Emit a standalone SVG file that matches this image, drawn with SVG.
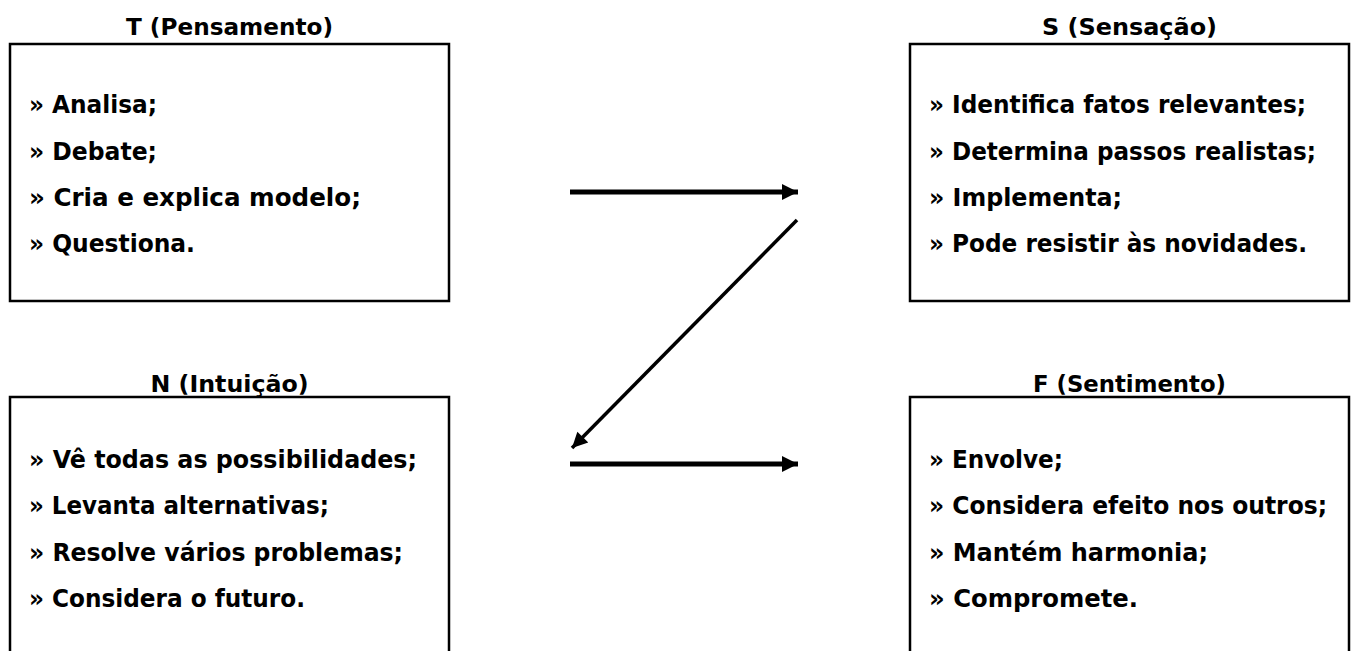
<svg xmlns="http://www.w3.org/2000/svg" width="1358" height="651" viewBox="0 0 1358 651">
<defs>
<style>
.box{fill:#fff;stroke:#000;stroke-width:2.5}
.t{font-family:"DejaVu Sans","Liberation Sans",sans-serif;font-weight:bold;font-size:24px;fill:#000}
.h{text-anchor:middle;font-size:23px}
.c{stroke:#000;fill:none}
</style>
<marker id="ah" viewBox="0 0 10 10" refX="10" refY="5" markerWidth="3.6" markerHeight="3.2" orient="auto" markerUnits="strokeWidth">
<path d="M0,0 L10,5 L0,10 z" fill="#000"/>
</marker>
<marker id="ah2" viewBox="0 0 10 10" refX="10" refY="5" markerWidth="5" markerHeight="4.4" orient="auto" markerUnits="strokeWidth">
<path d="M0,0 L10,5 L0,10 z" fill="#000"/>
</marker>
</defs>
<rect width="1358" height="651" fill="#fff"/>
<g id="node-T">
<text class="t h" x="229.5" y="35" textLength="207" lengthAdjust="spacingAndGlyphs">T (Pensamento)</text>
<rect class="box" x="10" y="44" width="439" height="257"/>
<text class="t" x="29" y="113" textLength="128" lengthAdjust="spacingAndGlyphs">» Analisa;</text>
<text class="t" x="29" y="160" textLength="128" lengthAdjust="spacingAndGlyphs">» Debate;</text>
<text class="t" x="29" y="206" textLength="332" lengthAdjust="spacingAndGlyphs">» Cria e explica modelo;</text>
<text class="t" x="29" y="252" textLength="166" lengthAdjust="spacingAndGlyphs">» Questiona.</text>
</g>
<g id="node-S">
<text class="t h" x="1129.5" y="35" textLength="175" lengthAdjust="spacingAndGlyphs">S (Sensação)</text>
<rect class="box" x="910" y="44" width="439" height="257"/>
<text class="t" x="929" y="113" textLength="377" lengthAdjust="spacingAndGlyphs">» Identifica fatos relevantes;</text>
<text class="t" x="929" y="160" textLength="387" lengthAdjust="spacingAndGlyphs">» Determina passos realistas;</text>
<text class="t" x="929" y="206" textLength="193" lengthAdjust="spacingAndGlyphs">» Implementa;</text>
<text class="t" x="929" y="252" textLength="378" lengthAdjust="spacingAndGlyphs">» Pode resistir às novidades.</text>
</g>
<g id="node-N">
<text class="t h" x="229.5" y="392" textLength="158" lengthAdjust="spacingAndGlyphs">N (Intuição)</text>
<rect class="box" x="10" y="397" width="439" height="270"/>
<text class="t" x="29" y="468" textLength="388" lengthAdjust="spacingAndGlyphs">» Vê todas as possibilidades;</text>
<text class="t" x="29" y="514" textLength="300" lengthAdjust="spacingAndGlyphs">» Levanta alternativas;</text>
<text class="t" x="29" y="561" textLength="374" lengthAdjust="spacingAndGlyphs">» Resolve vários problemas;</text>
<text class="t" x="29" y="607" textLength="276" lengthAdjust="spacingAndGlyphs">» Considera o futuro.</text>
</g>
<g id="node-F">
<text class="t h" x="1129.5" y="392" textLength="193" lengthAdjust="spacingAndGlyphs">F (Sentimento)</text>
<rect class="box" x="910" y="397" width="439" height="270"/>
<text class="t" x="929" y="468" textLength="134" lengthAdjust="spacingAndGlyphs">» Envolve;</text>
<text class="t" x="929" y="514" textLength="398" lengthAdjust="spacingAndGlyphs">» Considera efeito nos outros;</text>
<text class="t" x="929" y="561" textLength="279" lengthAdjust="spacingAndGlyphs">» Mantém harmonia;</text>
<text class="t" x="929" y="607" textLength="209" lengthAdjust="spacingAndGlyphs">» Compromete.</text>
</g>
<g id="connectors">
<line class="c" x1="570" y1="192" x2="798" y2="192" stroke-width="5" marker-end="url(#ah)"/>
<line class="c" x1="797" y1="220" x2="572" y2="448" stroke-width="3.5" marker-end="url(#ah2)"/>
<line class="c" x1="570" y1="464" x2="798" y2="464" stroke-width="5" marker-end="url(#ah)"/>
</g>
</svg>
